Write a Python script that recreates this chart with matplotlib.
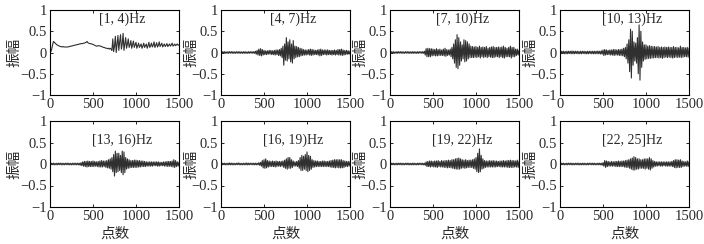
import matplotlib
matplotlib.use("Agg")
import matplotlib.pyplot as plt
import numpy as np

# band titles
bands = ["[1, 4)Hz", "[4, 7)Hz", "[7, 10)Hz", "[10, 13)Hz",
         "[13, 16)Hz", "[16, 19)Hz", "[19, 22)Hz", "[22, 25]Hz"]

# amplitude, one value every 10 samples (0..1500),
# one row of the list per 100 samples
amp_1_4 = [0.0, 0.02, 0.08, 0.18, 0.26, 0.24, 0.22, 0.20, 0.18, 0.17,
           0.16, 0.15, 0.14, 0.14, 0.13, 0.14, 0.13, 0.13, 0.13, 0.13,
           0.13, 0.13, 0.14, 0.14, 0.15, 0.15, 0.16, 0.16, 0.17, 0.17,
           0.18, 0.18, 0.19, 0.19, 0.20, 0.20, 0.21, 0.21, 0.21, 0.22,
           0.22, 0.23, 0.24, 0.26, 0.23, 0.22, 0.21, 0.21, 0.20, 0.20,
           0.19, 0.18, 0.17, 0.16, 0.15, 0.15, 0.16, 0.16, 0.15, 0.15,
           0.14, 0.13, 0.12, 0.12, 0.11, 0.10, 0.10, 0.09, 0.10, 0.08,
           0.10, 0.08, 0.05, 0.32, 0.02, 0.15, 0.38, 0.00, 0.20, 0.40,
           0.05, 0.25, 0.42, 0.08, 0.20, 0.45, 0.05, 0.20, 0.35, 0.10,
           0.20, 0.32, 0.12, 0.18, 0.28, 0.10, 0.18, 0.27, 0.12, 0.18,
           0.24, 0.10, 0.16, 0.22, 0.12, 0.16, 0.20, 0.10, 0.15, 0.22,
           0.12, 0.16, 0.20, 0.10, 0.16, 0.24, 0.12, 0.16, 0.22, 0.13,
           0.17, 0.25, 0.12, 0.17, 0.23, 0.13, 0.17, 0.25, 0.14, 0.18,
           0.22, 0.13, 0.17, 0.20, 0.14, 0.17, 0.21, 0.14, 0.17, 0.20,
           0.15, 0.18, 0.22, 0.15, 0.17, 0.20, 0.16, 0.18, 0.20, 0.17,
           0.18]

amp_4_7 = [0.0, -0.02, 0.02, -0.015, 0.02, -0.02, 0.015, -0.02, 0.02, -0.02,
           0.02, -0.015, 0.02, -0.02, 0.02, -0.02, 0.015, -0.02, 0.02, -0.015,
           0.02, -0.02, 0.02, -0.02, 0.015, -0.02, 0.02, -0.02, 0.02, -0.02,
           0.015, -0.02, 0.02, -0.02, 0.02, -0.015, 0.02, -0.02, 0.02, -0.02,
           0.03, -0.04, 0.05, -0.06, 0.08, -0.07, 0.09, -0.08, 0.07, -0.06,
           0.05, -0.05, 0.04, -0.05, 0.04, -0.04, 0.05, -0.04, 0.05, -0.05,
           0.04, -0.05, 0.05, -0.06, 0.06, -0.05, 0.06, -0.07, 0.07, -0.08,
           0.10, -0.12, 0.15, -0.30, 0.20, -0.18, 0.35, -0.20, 0.25, -0.15,
           0.30, -0.22, 0.20, -0.25, 0.28, -0.15, 0.15, -0.12, 0.14, -0.10,
           0.12, -0.10, 0.10, -0.08, 0.09, -0.07, 0.07, -0.06, 0.06, -0.06,
           0.06, -0.05, 0.07, -0.06, 0.08, -0.07, 0.07, -0.06, 0.06, -0.05,
           0.05, -0.05, 0.06, -0.06, 0.07, -0.08, 0.08, -0.07, 0.06, -0.05,
           0.06, -0.05, 0.06, -0.06, 0.06, -0.05, 0.05, -0.05, 0.05, -0.06,
           0.05, -0.05, 0.06, -0.06, 0.05, -0.05, 0.07, -0.06, 0.07, -0.06,
           0.08, -0.07, 0.06, -0.06, 0.05, -0.05, 0.05, -0.04, 0.04, -0.04,
           0.03]

amp_7_10 = [0.0, -0.02, 0.02, -0.015, 0.02, -0.02, 0.015, -0.02, 0.02, -0.02,
            0.02, -0.015, 0.02, -0.02, 0.02, -0.02, 0.015, -0.02, 0.02, -0.015,
            0.02, -0.02, 0.02, -0.02, 0.015, -0.02, 0.02, -0.02, 0.02, -0.02,
            0.015, -0.02, 0.02, -0.02, 0.02, -0.015, 0.02, -0.02, 0.02, -0.02,
            0.03, -0.06, 0.09, -0.10, 0.10, -0.10, 0.09, -0.10, 0.09, -0.08,
            0.08, -0.07, 0.07, -0.08, 0.09, -0.08, 0.07, -0.07, 0.08, -0.07,
            0.06, -0.07, 0.08, -0.08, 0.10, -0.09, 0.07, -0.07, 0.06, -0.06,
            0.08, -0.10, 0.12, -0.15, 0.20, -0.25, 0.30, -0.35, 0.42, -0.38,
            0.35, -0.30, 0.25, -0.20, 0.18, -0.15, 0.30, -0.22, 0.28, -0.20,
            0.25, -0.15, 0.20, -0.12, 0.15, -0.12, 0.14, -0.12, 0.13, -0.11,
            0.14, -0.12, 0.12, -0.10, 0.15, -0.13, 0.12, -0.10, 0.13, -0.12,
            0.12, -0.10, 0.14, -0.12, 0.10, -0.10, 0.12, -0.11, 0.13, -0.12,
            0.14, -0.12, 0.12, -0.10, 0.12, -0.10, 0.13, -0.12, 0.12, -0.10,
            0.13, -0.12, 0.15, -0.13, 0.12, -0.10, 0.10, -0.10, 0.12, -0.10,
            0.15, -0.13, 0.12, -0.10, 0.12, -0.10, 0.08, -0.07, 0.08, -0.06,
            0.05]

amp_10_13 = [0.0, -0.02, 0.03, -0.025, 0.03, -0.03, 0.025, -0.03, 0.03, -0.03,
             0.03, -0.025, 0.03, -0.03, 0.035, -0.03, 0.03, -0.03, 0.03, -0.025,
             0.03, -0.03, 0.025, -0.03, 0.03, -0.03, 0.03, -0.025, 0.03, -0.03,
             0.025, -0.03, 0.03, -0.03, 0.03, -0.025, 0.03, -0.03, 0.03, -0.03,
             0.03, -0.03, 0.03, -0.03, 0.035, -0.03, 0.03, -0.035, 0.04, -0.04,
             0.06, -0.07, 0.07, -0.06, 0.06, -0.05, 0.05, -0.05, 0.06, -0.06,
             0.06, -0.06, 0.07, -0.07, 0.07, -0.06, 0.06, -0.06, 0.07, -0.07,
             0.07, -0.07, 0.08, -0.08, 0.10, -0.10, 0.12, -0.15, 0.20, -0.25,
             0.30, -0.45, 0.55, -0.60, 0.50, -0.30, 0.25, -0.20, 0.22, -0.25,
             0.35, -0.50, 0.65, -0.65, 0.50, -0.35, 0.25, -0.20, 0.18, -0.16,
             0.18, -0.15, 0.15, -0.14, 0.16, -0.14, 0.15, -0.13, 0.14, -0.13,
             0.14, -0.12, 0.13, -0.12, 0.14, -0.13, 0.12, -0.12, 0.13, -0.14,
             0.12, -0.12, 0.13, -0.11, 0.12, -0.12, 0.13, -0.11, 0.12, -0.12,
             0.12, -0.13, 0.14, -0.12, 0.12, -0.11, 0.12, -0.12, 0.11, -0.11,
             0.15, -0.12, 0.12, -0.11, 0.12, -0.10, 0.11, -0.10, 0.12, -0.11,
             0.10]

amp_13_16 = [0.0, -0.02, 0.02, -0.015, 0.02, -0.02, 0.015, -0.02, 0.02, -0.02,
             0.02, -0.015, 0.02, -0.02, 0.02, -0.02, 0.015, -0.02, 0.02, -0.015,
             0.02, -0.02, 0.02, -0.02, 0.015, -0.02, 0.02, -0.02, 0.02, -0.02,
             0.02, -0.02, 0.02, -0.02, 0.02, -0.03, 0.03, -0.04, 0.05, -0.05,
             0.06, -0.06, 0.06, -0.07, 0.07, -0.06, 0.06, -0.06, 0.06, -0.06,
             0.07, -0.06, 0.06, -0.05, 0.05, -0.06, 0.06, -0.07, 0.07, -0.07,
             0.08, -0.07, 0.07, -0.06, 0.07, -0.08, 0.08, -0.09, 0.10, -0.10,
             0.12, -0.12, 0.15, -0.18, 0.22, -0.28, 0.30, -0.20, 0.25, -0.18,
             0.25, -0.15, 0.20, -0.20, 0.30, -0.25, 0.28, -0.20, 0.15, -0.12,
             0.12, -0.10, 0.10, -0.09, 0.08, -0.08, 0.08, -0.08, 0.09, -0.08,
             0.09, -0.08, 0.08, -0.07, 0.08, -0.07, 0.07, -0.06, 0.07, -0.06,
             0.06, -0.06, 0.05, -0.05, 0.05, -0.05, 0.05, -0.05, 0.05, -0.05,
             0.05, -0.04, 0.05, -0.04, 0.05, -0.05, 0.05, -0.05, 0.04, -0.04,
             0.04, -0.04, 0.05, -0.05, 0.05, -0.05, 0.06, -0.06, 0.06, -0.05,
             0.06, -0.06, 0.07, -0.07, 0.10, -0.08, 0.08, -0.06, 0.05, -0.05,
             0.04]

amp_16_19 = [0.0, -0.02, 0.02, -0.015, 0.02, -0.02, 0.015, -0.02, 0.02, -0.02,
             0.025, -0.02, 0.02, -0.02, 0.02, -0.02, 0.015, -0.02, 0.02, -0.015,
             0.025, -0.02, 0.02, -0.02, 0.015, -0.02, 0.02, -0.02, 0.02, -0.02,
             0.025, -0.02, 0.02, -0.02, 0.02, -0.015, 0.02, -0.02, 0.02, -0.02,
             0.02, -0.02, 0.02, -0.02, 0.03, -0.03, 0.04, -0.05, 0.08, -0.09,
             0.10, -0.10, 0.12, -0.09, 0.08, -0.07, 0.07, -0.06, 0.06, -0.06,
             0.07, -0.06, 0.06, -0.07, 0.07, -0.06, 0.06, -0.05, 0.06, -0.06,
             0.06, -0.05, 0.07, -0.08, 0.09, -0.10, 0.12, -0.12, 0.15, -0.10,
             0.15, -0.10, 0.10, -0.08, 0.07, -0.05, 0.05, -0.05, 0.06, -0.06,
             0.08, -0.10, 0.15, -0.15, 0.20, -0.15, 0.18, -0.12, 0.22, -0.15,
             0.28, -0.18, 0.20, -0.15, 0.18, -0.12, 0.10, -0.08, 0.08, -0.07,
             0.07, -0.06, 0.07, -0.06, 0.06, -0.06, 0.06, -0.06, 0.07, -0.06,
             0.07, -0.06, 0.06, -0.06, 0.06, -0.06, 0.07, -0.07, 0.08, -0.08,
             0.09, -0.08, 0.10, -0.09, 0.10, -0.08, 0.10, -0.09, 0.10, -0.09,
             0.10, -0.09, 0.08, -0.08, 0.07, -0.06, 0.06, -0.06, 0.06, -0.05,
             0.05]

amp_19_22 = [0.0, -0.02, 0.02, -0.015, 0.02, -0.02, 0.015, -0.02, 0.02, -0.02,
             0.02, -0.015, 0.02, -0.02, 0.02, -0.02, 0.015, -0.02, 0.02, -0.015,
             0.02, -0.02, 0.02, -0.02, 0.015, -0.02, 0.02, -0.02, 0.02, -0.02,
             0.015, -0.02, 0.02, -0.02, 0.02, -0.015, 0.02, -0.02, 0.02, -0.02,
             0.02, -0.03, 0.05, -0.06, 0.06, -0.06, 0.07, -0.07, 0.07, -0.06,
             0.06, -0.07, 0.07, -0.07, 0.07, -0.08, 0.08, -0.06, 0.06, -0.07,
             0.08, -0.07, 0.07, -0.08, 0.08, -0.08, 0.08, -0.09, 0.09, -0.08,
             0.08, -0.09, 0.10, -0.10, 0.10, -0.11, 0.12, -0.12, 0.13, -0.12,
             0.14, -0.12, 0.12, -0.10, 0.10, -0.09, 0.09, -0.10, 0.10, -0.09,
             0.08, -0.08, 0.09, -0.08, 0.09, -0.08, 0.10, -0.10, 0.12, -0.12,
             0.15, -0.18, 0.25, -0.20, 0.35, -0.18, 0.20, -0.12, 0.12, -0.10,
             0.08, -0.08, 0.07, -0.07, 0.07, -0.07, 0.08, -0.07, 0.07, -0.07,
             0.08, -0.07, 0.07, -0.07, 0.07, -0.06, 0.06, -0.06, 0.07, -0.07,
             0.07, -0.07, 0.08, -0.07, 0.07, -0.07, 0.08, -0.08, 0.08, -0.08,
             0.09, -0.08, 0.08, -0.08, 0.08, -0.07, 0.07, -0.07, 0.09, -0.08,
             0.06]

amp_22_25 = [0.0, -0.02, 0.02, -0.015, 0.02, -0.02, 0.015, -0.02, 0.02, -0.02,
             0.02, -0.015, 0.02, -0.02, 0.02, -0.02, 0.015, -0.02, 0.02, -0.015,
             0.02, -0.02, 0.02, -0.02, 0.015, -0.02, 0.02, -0.02, 0.02, -0.02,
             0.015, -0.02, 0.02, -0.02, 0.02, -0.015, 0.02, -0.02, 0.02, -0.02,
             0.02, -0.02, 0.015, -0.02, 0.02, -0.02, 0.02, -0.02, 0.02, -0.03,
             0.03, -0.05, 0.08, -0.08, 0.07, -0.06, 0.06, -0.05, 0.05, -0.05,
             0.06, -0.05, 0.05, -0.05, 0.06, -0.06, 0.06, -0.06, 0.07, -0.06,
             0.06, -0.06, 0.07, -0.06, 0.07, -0.07, 0.08, -0.08, 0.09, -0.08,
             0.10, -0.10, 0.12, -0.12, 0.14, -0.14, 0.17, -0.14, 0.15, -0.12,
             0.12, -0.12, 0.12, -0.10, 0.10, -0.10, 0.10, -0.10, 0.12, -0.12,
             0.12, -0.10, 0.12, -0.12, 0.15, -0.14, 0.12, -0.10, 0.08, -0.07,
             0.06, -0.05, 0.05, -0.05, 0.05, -0.04, 0.05, -0.05, 0.05, -0.05,
             0.05, -0.04, 0.05, -0.05, 0.05, -0.05, 0.05, -0.05, 0.05, -0.05,
             0.06, -0.06, 0.08, -0.08, 0.10, -0.09, 0.10, -0.08, 0.09, -0.08,
             0.10, -0.08, 0.07, -0.06, 0.06, -0.05, 0.05, -0.05, 0.07, -0.06,
             0.05]

signals = [amp_1_4, amp_4_7, amp_7_10, amp_10_13,
           amp_13_16, amp_16_19, amp_19_22, amp_22_25]

yticks = [-1, -0.5, 0, 0.5, 1]
ytick_labels = ["\u22121", "\u22120.5", "0", "0.5", "1"]
xticks = [0, 500, 1000, 1500]

SERIF = "Liberation Serif"
CJK = ["Noto Sans CJK SC", "DejaVu Sans"]
TXT = "#2a2a2a"

fig = plt.figure(figsize=(7.04, 2.44), dpi=100)
W, H = 704, 244
lefts = [50, 221, 390, 560]
rows = [(10, 95), (121, 207)]   # top, bottom in pixels

for i, sig in enumerate(signals):
    r, c = divmod(i, 4)
    top, bot = rows[r]
    ax = fig.add_axes([lefts[c] / W, 1 - bot / H, 129 / W, (bot - top) / H])
    x = np.linspace(0, 1500, len(sig))
    ax.plot(x, sig, color="#303030", lw=0.8)
    ax.set_xlim(0, 1500)
    ax.set_ylim(-1, 1)
    ax.set_yticks(yticks)
    ax.set_yticklabels(ytick_labels)
    ax.set_xticks(xticks)
    ax.tick_params(direction="in", length=2.5, width=0.6, top=True, right=True,
                   labelsize=10.5, labelcolor=TXT, pad=2)
    for lab in ax.get_xticklabels() + ax.get_yticklabels():
        lab.set_fontfamily(SERIF)
    for sp in ax.spines.values():
        sp.set_linewidth(0.8)
    ty = 0.89 if r == 0 else 0.78
    ax.text(0.56, ty, bands[i], transform=ax.transAxes, ha="center", va="center",
            fontsize=10, family=SERIF, color=TXT)
    ax.set_ylabel("振幅", family=CJK, fontsize=10.5, color=TXT)
    ax.yaxis.set_label_coords(-0.225 if c == 0 else -0.175, 0.5)
    if r == 1:
        ax.set_xlabel("点数", family=CJK, fontsize=10.5, color=TXT, labelpad=3)

fig.savefig("out.png", dpi=100)
